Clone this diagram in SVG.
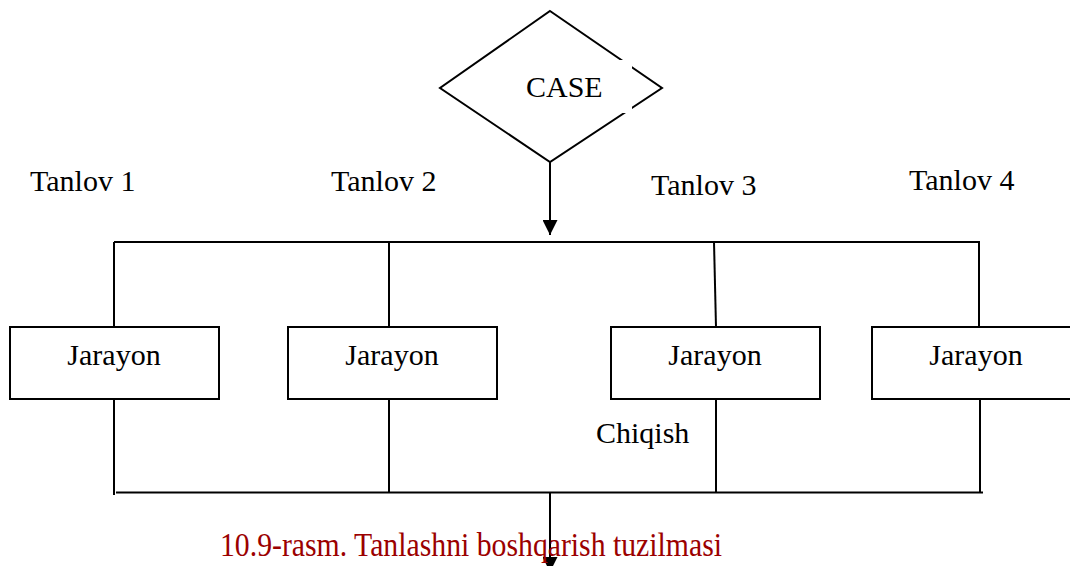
<svg xmlns="http://www.w3.org/2000/svg" width="1070" height="566" viewBox="0 0 1070 566">
<style>
.ln{stroke:#000;stroke-width:2;fill:none}
.box{stroke:#000;stroke-width:2;fill:#fff}
.t{font-family:"Liberation Serif","Times New Roman",serif;font-size:30px;fill:#000}
.cap{font-family:"Liberation Serif","Times New Roman",serif;font-size:34px;fill:#9b0000}
</style>
<defs>
<marker id="arr" viewBox="0 0 10 10" refX="10" refY="5" markerWidth="15" markerHeight="15" markerUnits="userSpaceOnUse" orient="auto">
<path d="M0,0 L10,5 L0,10 Z" fill="#000"/>
</marker>
</defs>
<rect width="1070" height="566" fill="#fff"/>
<g id="connectors">
<line class="ln" x1="550" y1="162" x2="550" y2="235" marker-end="url(#arr)"/>
<line class="ln" x1="114" y1="242" x2="980" y2="242"/>
<line class="ln" x1="114" y1="242" x2="114" y2="327"/>
<line class="ln" x1="389" y1="242" x2="389" y2="327"/>
<line class="ln" x1="714" y1="242" x2="716" y2="327"/>
<line class="ln" x1="979" y1="242" x2="979" y2="327"/>
<line class="ln" x1="114" y1="399" x2="114" y2="495"/>
<line class="ln" x1="389" y1="399" x2="389" y2="493"/>
<line class="ln" x1="716" y1="399" x2="716" y2="493"/>
<line class="ln" x1="980" y1="399" x2="980" y2="493"/>
<line class="ln" x1="116" y1="492.5" x2="983" y2="492.5"/>
<line class="ln" x1="550" y1="492" x2="550" y2="572" marker-end="url(#arr)"/>
</g>
<g id="case">
<polygon class="box" points="550,11 662,88 550,162 440,88"/>
<rect x="500" y="60" width="132" height="53" fill="#fff"/>
<text class="t" x="526" y="97">CASE</text>
</g>
<g id="labels">
<text class="t" x="30" y="191">Tanlov 1</text>
<text class="t" x="331" y="191">Tanlov 2</text>
<text class="t" x="651" y="195">Tanlov 3</text>
<text class="t" x="909" y="190">Tanlov 4</text>
<text class="t" x="596" y="443">Chiqish</text>
</g>
<g id="jarayon1">
<rect class="box" x="10" y="327" width="209" height="72"/>
<text class="t" x="114" y="365" text-anchor="middle">Jarayon</text>
</g>
<g id="jarayon2">
<rect class="box" x="288" y="327" width="209" height="72"/>
<text class="t" x="392" y="365" text-anchor="middle">Jarayon</text>
</g>
<g id="jarayon3">
<rect class="box" x="611" y="327" width="209" height="72"/>
<text class="t" x="715" y="365" text-anchor="middle">Jarayon</text>
</g>
<g id="jarayon4">
<rect class="box" x="872" y="327" width="220" height="72"/>
<text class="t" x="976" y="365" text-anchor="middle">Jarayon</text>
</g>
<g id="caption">
<text class="cap" x="220" y="556" textLength="502" lengthAdjust="spacingAndGlyphs">10.9-rasm. Tanlashni boshqarish tuzilmasi</text>
</g>
</svg>
